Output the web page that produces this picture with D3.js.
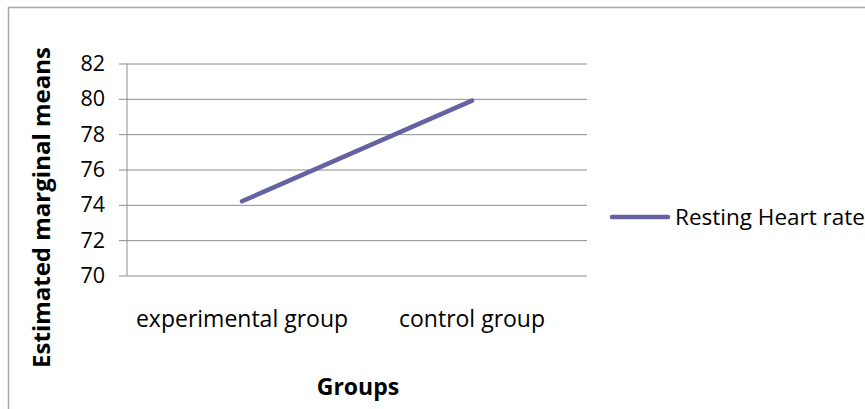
<!DOCTYPE html>
<html>
<head>
<meta charset="utf-8">
<script src="https://cdn.jsdelivr.net/npm/d3@7"></script>
<style>
  html, body { margin: 0; padding: 0; background: #fff; }
  svg { display: block; font-family: "Open Sans", "Lato", sans-serif; }
</style>
</head>
<body>
<svg id="chart" width="865" height="409"></svg>
<script>
// Estimated marginal means of resting heart rate by group
const categories = ["experimental group", "control group"];
const seriesName = "Resting Heart rate";
const seriesValues = [74.2, 79.9];
const yTicks = [70, 72, 74, 76, 78, 80, 82];

const FONT = "Open Sans, Lato, sans-serif";
const svg = d3.select("#chart");

// outer chart frame (top and left edges visible)
svg.append("path")
  .attr("d", "M8.5,409 V7.5 H865")
  .attr("fill", "none")
  .attr("stroke", "#a6a6a6")
  .attr("stroke-width", 1.5);

const plot = { left: 127, right: 587, top: 63.5, bottom: 275.5 };

const x = d3.scaleBand()
  .domain(categories)
  .range([plot.left, plot.right]);

const y = d3.scaleLinear()
  .domain([70, 82])
  .range([plot.bottom, plot.top]);

// horizontal gridlines with small ticks on the left
const yAxis = d3.axisLeft(y)
  .tickValues(yTicks)
  .tickSize(-(plot.right - plot.left))
  .tickSizeOuter(0)
  .tickPadding(22)
  .tickFormat(d3.format("d"));

const gy = svg.append("g")
  .attr("transform", `translate(${plot.left},0)`)
  .call(yAxis);
gy.select(".domain").remove();
gy.selectAll(".tick line")
  .attr("x1", -8)
  .attr("stroke", "#8c8c8c")
  .attr("stroke-width", 1);
gy.selectAll(".tick text")
  .attr("fill", "#000")
  .attr("font-size", 21.5)
  .attr("font-family", FONT);

// vertical axis line
svg.append("line")
  .attr("x1", plot.left).attr("x2", plot.left)
  .attr("y1", plot.top).attr("y2", plot.bottom)
  .attr("stroke", "#8c8c8c");

// category labels
const xAxis = d3.axisBottom(x).tickSize(0).tickPadding(35);
const gx = svg.append("g")
  .attr("transform", `translate(0,${plot.bottom})`)
  .call(xAxis);
gx.select(".domain").remove();
gx.selectAll(".tick text")
  .attr("fill", "#000")
  .attr("font-size", 23)
  .attr("font-family", FONT);

// the series line
const line = d3.line()
  .x((d, i) => x(categories[i]) + x.bandwidth() / 2)
  .y(d => y(d));

svg.append("path")
  .datum(seriesValues)
  .attr("d", line)
  .attr("fill", "none")
  .attr("stroke", "#6462a0")
  .attr("stroke-width", 4.5)
  .attr("stroke-linecap", "round");

// axis titles
svg.append("text")
  .attr("x", 358)
  .attr("y", 395)
  .attr("text-anchor", "middle")
  .attr("font-size", 23)
  .attr("font-weight", "bold")
  .text("Groups");

svg.append("text")
  .attr("transform", `translate(50,207.5) rotate(-90)`)
  .attr("text-anchor", "middle")
  .attr("font-size", 24)
  .attr("font-weight", "bold")
  .text("Estimated marginal means");

// legend
const legend = svg.append("g").attr("transform", "translate(612,217)");
legend.append("line")
  .attr("x1", 0).attr("x2", 56)
  .attr("stroke", "#6462a0")
  .attr("stroke-width", 4.5)
  .attr("stroke-linecap", "round");
legend.append("text")
  .attr("x", 63)
  .attr("dy", "0.35em")
  .attr("font-size", 22.5)
  .text(seriesName);
</script>
</body>
</html>
